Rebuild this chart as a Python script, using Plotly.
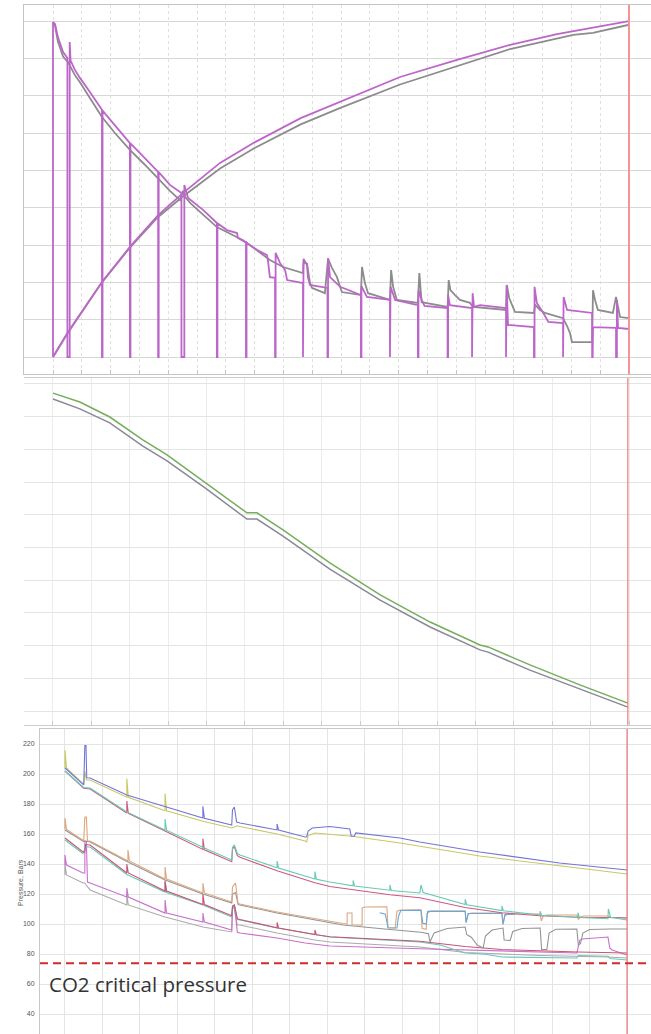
import plotly.graph_objects as go

W, H = 651, 1034

# ---------------- Panel 1 (recovery / rate, arbitrary units 0-90, time 0-20) -------------
p1_rise_purple = [(0, 0), (0.52, 6.7), (1.70, 20.1), (2.67, 29.5), (3.65, 38.0), (4.51, 43.9), (5.80, 52.0),
                  (7.0, 57.5), (8.6, 64.0), (10.0, 68.5), (12.05, 75.0), (14.0, 79.5), (15.87, 83.6),
                  (17.5, 86.5), (19.0, 88.7), (20.0, 90.0)]
p1_rise_gray = [(0, 0), (0.52, 6.5), (1.70, 20.0), (2.67, 29.3), (3.65, 37.5), (4.51, 43.0), (5.80, 50.5),
                (7.0, 56.0), (8.6, 62.3), (10.0, 66.8), (12.05, 73.0), (14.0, 77.8), (15.87, 82.5),
                (18.06, 86.3), (18.75, 86.8), (20.0, 89.0)]
p1_decl_purple = [(0, 0), (0, 89.7), (0.07, 89.2), (0.17, 85.7), (0.35, 81.7), (0.45, 80.4), (0.50, 80.1), (0.50, 0),
                  (0.58, 0), (0.58, 84.4), (0.61, 79.4), (0.76, 76.9), (0.94, 74.7), (1.28, 71.0), (1.70, 66.2),
                  (1.70, 0), (1.72, 0), (1.72, 66.0), (2.15, 62.1), (2.67, 57.3), (2.67, 0), (2.69, 0), (2.69, 57.2),
                  (3.19, 53.3), (3.65, 49.6), (3.65, 0), (3.67, 0), (3.67, 49.5), (4.06, 46.1), (4.41, 44.2),
                  (4.46, 43.9), (4.46, 0), (4.56, 0), (4.56, 46.1), (4.69, 42.6), (5.21, 39.4), (5.69, 35.9),
                  (5.69, 0), (5.71, 0), (5.71, 35.8), (6.04, 34.0), (6.39, 33.2), (6.42, 31.9), (6.67, 30.8),
                  (6.70, 30.8), (6.70, 0), (6.72, 0), (6.72, 30.6), (7.08, 28.7), (7.43, 27.3), (7.47, 25.5),
                  (7.53, 21.4), (7.71, 21.2), (7.71, 0), (7.73, 0), (7.73, 27.9), (7.78, 26.8), (7.88, 25.2),
                  (8.06, 23.3), (8.13, 20.6), (8.68, 19.8), (8.68, 0), (8.70, 0), (8.70, 26.3), (8.82, 24.6),
                  (8.85, 21.4), (8.92, 19.3), (9.53, 18.5), (9.53, 0), (9.55, 0), (9.55, 26.5), (9.62, 21.4),
                  (9.97, 18.8), (10.69, 16.6), (10.69, 0), (10.71, 0), (10.71, 19.0), (10.83, 17.4), (10.90, 16.1),
                  (11.70, 15.3), (11.70, 0), (11.72, 0), (11.72, 18.8), (11.88, 15.3), (12.67, 13.9), (12.67, 0),
                  (12.69, 0), (12.69, 17.9), (12.80, 15.3), (12.90, 13.7), (13.70, 13.1), (13.70, 0), (13.72, 0),
                  (13.72, 16.6), (13.78, 13.9), (14.55, 13.1), (14.55, 0), (14.57, 0), (14.57, 17.1), (14.62, 13.4),
                  (14.83, 13.9), (15.73, 13.1), (15.73, 0), (15.75, 0), (15.75, 19.3), (15.80, 8.6), (16.70, 8.0),
                  (16.70, 0), (16.72, 0), (16.72, 18.8), (16.80, 14.5), (17.00, 12.1), (17.20, 9.4), (17.71, 9.1),
                  (17.71, 0), (17.73, 0), (17.73, 16.1), (17.85, 12.6), (18.72, 11.8), (18.72, 0), (18.74, 0),
                  (18.75, 8.0), (19.55, 7.8), (19.55, 0), (19.58, 0), (19.58, 15.3), (19.62, 7.8), (20.0, 7.5)]
p1_decl_gray = [(0, 89.7), (0.07, 88.7), (0.17, 84.5), (0.35, 80.5), (0.52, 79.0), (0.59, 78.0), (0.76, 75.5),
                (0.94, 73.5), (1.28, 69.5), (1.70, 64.3), (2.15, 60.0), (2.67, 55.5), (3.19, 51.5), (3.65, 47.7),
                (4.06, 44.5), (4.41, 42.0), (4.51, 44.5), (4.58, 43.0), (4.76, 41.3), (5.69, 34.8), (6.60, 31.3),
                (7.53, 26.0), (7.99, 24.1), (8.68, 22.5), (8.70, 25.4), (8.82, 25.0), (8.92, 20.0), (8.99, 18.5),
                (9.44, 17.1), (9.55, 26.3), (9.69, 23.8), (9.86, 21.4), (10.03, 17.4), (10.69, 16.6), (10.73, 24.1),
                (10.83, 19.8), (10.94, 17.1), (11.70, 15.3), (11.74, 23.3), (11.81, 18.8), (11.94, 15.3),
                (12.67, 14.5), (12.72, 22.5), (12.80, 14.7), (13.70, 13.4), (13.74, 20.6), (13.80, 17.9),
                (13.96, 16.6), (14.13, 15.3), (14.48, 14.5), (14.58, 13.4), (15.73, 12.6), (15.76, 19.3),
                (15.84, 15.8), (16.04, 12.1), (16.70, 11.8), (16.74, 14.0), (16.91, 12.6), (17.08, 11.8),
                (17.71, 10.4), (17.78, 9.5), (17.85, 8.3), (17.95, 6.4), (18.02, 4.0), (18.72, 4.0), (18.75, 17.9),
                (18.82, 15.3), (18.92, 12.6), (19.44, 11.8), (19.55, 16.1), (19.62, 13.4), (19.69, 10.7),
                (20.0, 10.4)]

# ---------------- Panel 2 (two nearly parallel declining curves, 0-100, time 0-15) -------------
p2_time = [0, 0.70, 1.48, 2.34, 2.97, 3.96, 5.05, 5.31, 5.99, 7.21, 8.52, 9.82, 11.12, 11.33, 12.42, 13.72, 14.97]
p2_green = [97.2, 94.5, 89.9, 82.9, 78.3, 70.0, 60.6, 60.6, 55.4, 45.3, 35.5, 27.2, 20.2, 19.6, 14.1, 8.0, 2.4]
p2_gray = [95.4, 92.4, 88.1, 81.0, 76.5, 68.2, 58.7, 58.7, 53.5, 43.4, 33.9, 25.7, 18.7, 18.0, 12.5, 6.7, 1.2]

# ---------------- Panel 3 (well pressures, bars, time 0-15) -------------
p3_blue = [(0, 204), (0.50, 192.7), (0.53, 219), (0.56, 219), (0.58, 197.5), (0.67, 197.3), (1.65, 186),
           (3.68, 170.7), (3.68, 178.5), (3.72, 170.5), (4.45, 166), (4.47, 176), (4.52, 178), (4.58, 168),
           (4.67, 167.3), (5.66, 162.7), (5.66, 166.7), (5.70, 162.6), (6.41, 158), (6.45, 158.2), (6.49, 162),
           (6.60, 164), (7.07, 165), (7.60, 163.3), (7.64, 158.5), (7.72, 158.5), (7.76, 160.7), (8.94, 157.3),
           (9.47, 154.7), (11.07, 148), (13.2, 140.7), (15, 136)]
p3_yellow = [(0, 204), (0, 216), (0.04, 204), (0.50, 193), (0.53, 202), (0.57, 196), (0.67, 196), (1.65, 184.5),
             (1.65, 197), (1.69, 184.5), (2.67, 175.5), (2.67, 187), (2.71, 175.5), (3.68, 168.5), (4.45, 164),
             (4.60, 165.5), (4.67, 165), (5.66, 160), (6.41, 155.3), (6.45, 154.7), (6.49, 159), (6.67, 160.7),
             (7.66, 158.5), (8.94, 154), (11.07, 145.3), (13.2, 138.7), (15, 133.3)]
p3_teal_hi = [(0, 202), (0.50, 191), (0.67, 190.7), (1.65, 174.7), (2.67, 162.7), (2.67, 170), (2.71, 162.5),
              (3.68, 150.7), (3.72, 150.6), (4.45, 142.7), (4.47, 151), (4.52, 152.7), (4.60, 147), (4.67, 146),
              (5.66, 137.5), (5.66, 142), (5.70, 137.3), (6.67, 130), (6.67, 135), (6.71, 129.8), (7.07, 128),
              (7.69, 125.5), (7.69, 129), (7.73, 125.3), (8.67, 122.5), (8.67, 126), (8.71, 122.3),
              (9.47, 120.7), (9.50, 126), (9.56, 121), (10.68, 113), (10.68, 116.5), (10.72, 112.8),
              (11.66, 109), (11.66, 112), (11.70, 108.8), (12.68, 106), (12.68, 108.5), (12.72, 105.8),
              (13.69, 104.5), (13.69, 107.5), (13.73, 104.3), (14.49, 103.5), (14.50, 110), (14.56, 104.5),
              (15, 102.7)]
p3_red_hi = [(0, 202), (0.50, 190.5), (0.67, 190), (1.65, 174), (1.65, 182), (1.69, 173.8), (2.67, 162),
             (3.68, 149.7), (3.68, 157), (3.72, 149.5), (4.45, 141.5), (4.47, 150), (4.52, 151.5), (4.60, 145.5),
             (4.67, 144.5), (5.66, 135.5), (6.67, 127.5), (7.07, 125), (8.67, 119.5), (9.47, 117.5),
             (10.68, 111), (11.66, 107.5), (12.68, 105.5), (13.69, 104.5), (14.49, 104.3), (15, 104)]
p3_gray_mid = [(0, 162.7), (0.50, 155), (0.53, 155.5), (0.67, 154.7), (1.68, 141.3), (2.67, 129.3), (3.68, 120),
               (4.45, 114), (4.47, 120), (4.55, 121), (4.62, 113), (4.67, 112.7), (5.66, 107.3), (6.67, 102.7),
               (7.42, 99.3), (8.60, 96.5), (9.50, 94.5), (9.70, 93.5), (9.74, 88), (9.85, 94), (10.2, 97),
               (10.68, 98), (10.72, 93), (10.85, 91), (11.0, 86), (11.16, 84), (11.22, 92), (11.4, 96),
               (11.69, 97.3), (11.72, 89.3), (11.88, 89), (11.95, 95), (12.2, 97), (12.68, 97.3), (12.72, 83),
               (12.86, 83), (12.92, 94), (13.1, 96.5), (13.66, 96.7), (13.70, 86), (13.76, 87), (13.82, 94),
               (14.0, 96.3), (14.54, 96.7), (15, 96.7)]
p3_orange = [(0, 163), (0, 170.7), (0.04, 163), (0.50, 155.5), (0.53, 171.3), (0.57, 171.3), (0.60, 155.5),
             (0.67, 155.3), (1.68, 142), (1.68, 149.3), (1.72, 142), (2.67, 130), (2.67, 138), (2.71, 130),
             (3.68, 120.7), (3.68, 127.3), (3.72, 120.7), (4.45, 114.7), (4.47, 124.7), (4.55, 127.3),
             (4.62, 113.7), (4.67, 113.3), (5.66, 108), (6.67, 103.3), (7.42, 100.3), (7.53, 100), (7.53, 107.3),
             (7.66, 107.3), (7.66, 99.5), (7.93, 99.2), (7.93, 110.7), (8.0, 111.3), (8.59, 111.5), (8.62, 97.5),
             (8.81, 97.3), (8.86, 108.5), (8.95, 109.3), (9.50, 109.5), (9.53, 97), (9.64, 96.5), (9.66, 107),
             (9.75, 108.7), (10.68, 108.7), (10.71, 101), (10.76, 106.5), (10.85, 107.3), (11.66, 107.3),
             (11.69, 99.5), (11.74, 105.5), (11.82, 106.7), (12.68, 106.7), (12.71, 102), (12.76, 105.3),
             (12.85, 106), (13.66, 106), (13.70, 103), (13.76, 104.8), (13.85, 105.3), (14.50, 105.3),
             (14.54, 104.5), (15, 104)]
p3_lightblue = [(8.40, 107.5), (8.55, 106.5), (8.62, 97.5), (8.86, 97.3), (8.90, 105), (8.96, 109),
                (9.50, 109.2), (9.55, 100.5), (9.64, 100), (9.68, 108.5), (10.68, 108.4), (10.70, 101),
                (10.76, 107), (11.66, 107), (11.69, 100), (11.74, 106.3), (12.0, 106.5)]
p3_red_lo = [(0, 157.3), (0.48, 148), (0.53, 148), (0.55, 153), (0.67, 152.7), (1.65, 134), (1.65, 140),
             (1.69, 134), (2.67, 122), (2.67, 129), (2.71, 122), (3.68, 113), (3.68, 120), (3.72, 113),
             (4.45, 105.5), (4.47, 112), (4.52, 112.7), (4.60, 103.5), (4.67, 103), (5.66, 97.5), (5.66, 101),
             (5.70, 97.3), (6.67, 93), (6.67, 96), (6.71, 92.8), (7.07, 91.5), (9.47, 88.5), (10.68, 85),
             (11.66, 83), (12.68, 82), (13.69, 81.3), (15, 80.7)]
p3_teal_lo = [(0, 156), (0.48, 147), (0.55, 151.5), (0.67, 151.3), (1.65, 133), (2.67, 121.3), (2.67, 128),
              (2.71, 121), (3.68, 112.7), (4.45, 104.7), (4.47, 110), (4.52, 112.7), (4.60, 103), (4.67, 102.7),
              (5.66, 97.3), (6.67, 93), (7.07, 91.3), (9.47, 88), (10.01, 86), (10.68, 80.7), (11.16, 80),
              (11.66, 78), (12.68, 77.5), (13.66, 77.3), (13.70, 79), (14.49, 78.5), (14.55, 77), (15, 76)]
p3_magenta = [(0, 139.3), (0, 146), (0.04, 139.3), (0.48, 134), (0.53, 134), (0.53, 155), (0.57, 155),
              (0.60, 128), (0.67, 127.3), (1.65, 118), (1.65, 124), (1.69, 118), (2.67, 107.3), (2.67, 116),
              (2.71, 107.3), (3.68, 101.3), (3.68, 107.3), (3.72, 101.3), (4.45, 96), (4.47, 110), (4.52, 112.7),
              (4.60, 94.5), (4.67, 94), (5.66, 90.7), (6.41, 87.3), (7.07, 85.3), (9.47, 83.5), (10.68, 82.7),
              (12.68, 81), (13.66, 80.7), (13.74, 89.3), (13.80, 90), (14.49, 91.3), (14.54, 84), (14.60, 82.7),
              (15, 79.3)]
p3_gray_lo = [(0, 132.7), (0, 140), (0.04, 132.7), (0.48, 127.3), (0.53, 127.3), (0.55, 126.5), (0.67, 122.7),
              (1.65, 112.7), (1.65, 120), (1.69, 112.7), (2.67, 104.7), (3.68, 98), (4.45, 94.7), (4.47, 112),
              (4.52, 110), (4.60, 99.3), (4.67, 99.3), (5.66, 94), (6.67, 89.3), (7.07, 88), (9.47, 84.7),
              (10.68, 81), (12.68, 79), (13.66, 78.5), (14.49, 78), (15, 77.3)]

co2_critical = 73.8
p3_yticks = [40, 60, 80, 100, 120, 140, 160, 180, 200, 220]

fig = go.Figure()


def add(pts, color, xa, ya, width=1.5):
    fig.add_trace(go.Scatter(x=[p[0] for p in pts], y=[p[1] for p in pts], mode="lines",
                             line=dict(color=color, width=width), xaxis=xa, yaxis=ya,
                             hoverinfo="skip", showlegend=False))


# panel 1
add(p1_rise_gray, "#8c8c8c", "x", "y", 1.8)
add(p1_decl_gray, "#8c8c8c", "x", "y", 1.8)
add(p1_rise_purple, "#bd66ca", "x", "y", 1.8)
add(p1_decl_purple, "#bd66ca", "x", "y", 1.8)

# panel 2
add(list(zip(p2_time, p2_gray)), "#8a8898", "x2", "y2", 1.5)
add(list(zip(p2_time, p2_green)), "#74ae5c", "x2", "y2", 1.5)

# panel 3
add(p3_gray_lo, "#ababab", "x3", "y3", 1.1)
add(p3_magenta, "#c870cc", "x3", "y3", 1.1)
add(p3_teal_lo, "#6cc8b6", "x3", "y3", 1.1)
add(p3_red_lo, "#c85474", "x3", "y3", 1.1)
add(p3_gray_mid, "#949494", "x3", "y3", 1.1)
add(p3_orange, "#dca67e", "x3", "y3", 1.1)
add(p3_lightblue, "#6aa6d8", "x3", "y3", 1.1)
add(p3_red_hi, "#cc5a80", "x3", "y3", 1.1)
add(p3_teal_hi, "#66cab4", "x3", "y3", 1.1)
add(p3_yellow, "#c8c866", "x3", "y3", 1.1)
add(p3_blue, "#7474d8", "x3", "y3", 1.1)

axis_common = dict(zeroline=False, showticklabels=False, fixedrange=True)

fig.update_layout(
    width=W, height=H, margin=dict(l=0, r=0, t=0, b=0),
    paper_bgcolor="white", plot_bgcolor="white",
    xaxis=dict(domain=[24 / W, 1], range=[-1.007, 20.764], tick0=0, dtick=1, showgrid=True,
               gridcolor="#e0e0e0", griddash="dot", showline=True, linecolor="#c4c4c4", mirror=True,
               ticks="inside", ticklen=4, tickcolor="#c4c4c4", anchor="y", **axis_common),
    yaxis=dict(domain=[1 - 374 / H, 1 - 5 / H], range=[-4.554, 94.29], tick0=0, dtick=10, showgrid=True,
               gridcolor="#d8d8d8", showline=True, linecolor="#c4c4c4", anchor="x", **axis_common),
    xaxis2=dict(domain=[24 / W, 1], range=[-0.755, 15.573], tick0=0, dtick=1, showgrid=True,
                gridcolor="#ececec", showline=True, linecolor="#cccccc", mirror=True,
                ticks="inside", ticklen=4, tickcolor="#cccccc", anchor="y2", **axis_common),
    yaxis2=dict(domain=[1 - 725 / H, 1 - 378 / H], range=[-4.28, 101.83], tick0=0, dtick=10, showgrid=True,
                gridcolor="#e4e4e4", showline=False, anchor="x2", **axis_common),
    xaxis3=dict(domain=[40 / W, 1], range=[-0.667, 15.639], tick0=0, dtick=1, showgrid=True,
                gridcolor="#e4e4e4", showline=True, linecolor="#c8c8c8", mirror=True, anchor="y3",
                **axis_common),
    yaxis3=dict(domain=[0, 1 - 729 / H], range=[26.67, 230], tickvals=p3_yticks,
                ticktext=[str(v) for v in p3_yticks], showgrid=True, gridcolor="#e4e4e4",
                showline=True, linecolor="#c8c8c8", zeroline=False, showticklabels=True, ticks="",
                ticklabelstandoff=3, tickfont=dict(family="Liberation Sans", size=7, color="#555555"),
                anchor="x3", fixedrange=True),
)

# red end-of-history markers
fig.add_shape(type="line", xref="x", yref="y domain", x0=20, x1=20, y0=0, y1=1,
              line=dict(color="#f49494", width=2))
fig.add_shape(type="line", xref="x2", yref="y2 domain", x0=14.97, x1=14.97, y0=0, y1=1,
              line=dict(color="#ee7a7a", width=1.2))
fig.add_shape(type="line", xref="x3", yref="y3 domain", x0=15, x1=15, y0=0, y1=1,
              line=dict(color="#ee7070", width=1.2))

# CO2 critical pressure line
fig.add_shape(type="line", xref="x3 domain", yref="y3", x0=0, x1=1, y0=co2_critical, y1=co2_critical,
              line=dict(color="#d42a2a", width=2, dash="8px,5px"))
fig.add_annotation(text="CO2 critical pressure", xref="paper", yref="paper", x=47 / W, y=1 - 984 / H,
                   xanchor="left", yanchor="middle", showarrow=False,
                   font=dict(family="Open Sans", size=20.5, color="#333333"))
fig.add_annotation(text="Pressure, Bars", xref="paper", yref="paper", x=20 / W, y=1 - 883 / H,
                   xanchor="center", yanchor="middle", showarrow=False, textangle=-90,
                   font=dict(family="Liberation Sans", size=7, color="#555555"))

fig.write_html("out.html", config={"displayModeBar": False, "staticPlot": True},
               post_script="document.body.style.margin='0px';document.body.style.padding='0px';"
                           "document.body.style.overflow='hidden';")
